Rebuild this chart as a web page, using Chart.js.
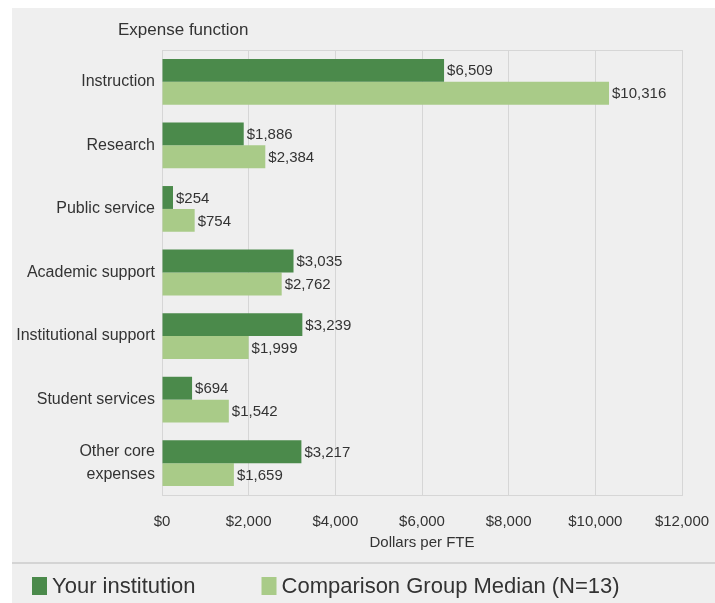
<!DOCTYPE html>
<html>
<head>
<meta charset="utf-8">
<script src="https://cdn.jsdelivr.net/npm/chart.js@4/dist/chart.umd.min.js"></script>
<style>
    html, body { margin: 0; padding: 0; background: #ffffff; }
    .panel {
        position: absolute; left: 12px; top: 8px;
        width: 703px; height: 595px;
        background: #efefef;
    }
    canvas { display: block; }
</style>
</head>
<body>
<div class="panel"><canvas id="chart" width="703" height="595"></canvas></div>
<script>
// --- DATA ---
const categories = [
    'Instruction', 'Research', 'Public service', 'Academic support',
    'Institutional support', 'Student services', ['Other core', 'expenses']
];
const yourInstitution = [6509, 1886, 254, 3035, 3239, 694, 3217];
const comparisonMedian = [10316, 2384, 754, 2762, 1999, 1542, 1659];
const xTicks = [0, 2000, 4000, 6000, 8000, 10000, 12000];

const FONT = "'Liberation Sans', Arial, sans-serif";
const TEXT = '#333333';
const fmt = v => '$' + v.toLocaleString('en-US');

// value labels to the right of each bar
const valueLabels = {
    id: 'valueLabels',
    afterDatasetsDraw(chart) {
        const ctx = chart.ctx;
        ctx.save();
        ctx.font = '15px ' + FONT;
        ctx.fillStyle = TEXT;
        ctx.textBaseline = 'middle';
        ctx.textAlign = 'left';
        chart.data.datasets.forEach((ds, i) => {
            chart.getDatasetMeta(i).data.forEach((bar, j) => {
                ctx.fillText(fmt(ds.data[j]), bar.x + 3, bar.y + 1);
            });
        });
        ctx.restore();
    }
};

// plot border, axis heading, separator and the legend row
const decorations = {
    id: 'decorations',
    beforeDatasetsDraw(chart) {
        const { ctx, chartArea: a } = chart;
        ctx.save();
        ctx.strokeStyle = '#d6d6d6';
        ctx.lineWidth = 1;
        ctx.strokeRect(a.left + 0.5, a.top + 0.5, a.right - a.left, a.bottom - a.top);
        ctx.restore();
    },
    afterDraw(chart) {
        const { ctx, chartArea: a } = chart;
        ctx.save();
        ctx.font = '17px ' + FONT;
        ctx.fillStyle = TEXT;
        ctx.textBaseline = 'middle';
        ctx.textAlign = 'left';
        ctx.fillText('Expense function', a.left - 44, 22);

        // separator
        const sepY = 555;
        ctx.strokeStyle = '#d4d4d4';
        ctx.lineWidth = 2;
        ctx.beginPath();
        ctx.moveTo(0, sepY);
        ctx.lineTo(chart.width, sepY);
        ctx.stroke();

        // legend
        ctx.font = '22px ' + FONT;
        let x = 20;
        const y = 578;
        chart.data.datasets.forEach(ds => {
            ctx.fillStyle = ds.backgroundColor;
            ctx.fillRect(x, y - 9, 15, 18);
            ctx.fillStyle = TEXT;
            ctx.fillText(ds.label, x + 20, y + 1);
            x += 20 + ctx.measureText(ds.label).width + 66;
        });
        ctx.restore();
    }
};

new Chart(document.getElementById('chart'), {
    type: 'bar',
    data: {
        labels: categories,
        datasets: [
            {
                label: 'Your institution',
                data: yourInstitution,
                backgroundColor: '#4b8a4b',
                categoryPercentage: 0.72,
                barPercentage: 1.0
            },
            {
                label: 'Comparison Group Median (N=13)',
                data: comparisonMedian,
                backgroundColor: '#a9cb88',
                categoryPercentage: 0.72,
                barPercentage: 1.0
            }
        ]
    },
    options: {
        indexAxis: 'y',
        responsive: false,
        animation: false,
        layout: { padding: { left: 0, right: 33, top: 42, bottom: 40 } },
        scales: {
            x: {
                min: 0,
                max: 12000,
                afterBuildTicks: s => { s.ticks = xTicks.map(v => ({ value: v })); },
                afterFit: s => { s.height = 68; s.paddingRight = 0; s.paddingLeft = 0; },
                grid: { color: '#d6d6d6', drawTicks: false },
                border: { color: '#c8c8c8' },
                ticks: {
                    color: TEXT,
                    font: { family: FONT, size: 15 },
                    padding: 18,
                    callback: v => fmt(v)
                },
                title: {
                    display: true,
                    text: 'Dollars per FTE',
                    color: TEXT,
                    font: { family: FONT, size: 15 },
                    padding: { top: 2, bottom: 11 }
                }
            },
            y: {
                afterFit: s => { s.width = 150; },
                grid: { display: false, drawTicks: false },
                border: { display: false },
                ticks: {
                    color: TEXT,
                    font: { family: FONT, size: 16, lineHeight: 1.4 },
                    padding: 7
                }
            }
        },
        plugins: {
            legend: { display: false },
            tooltip: { enabled: false }
        }
    },
    plugins: [valueLabels, decorations]
});
</script>
</body>
</html>
